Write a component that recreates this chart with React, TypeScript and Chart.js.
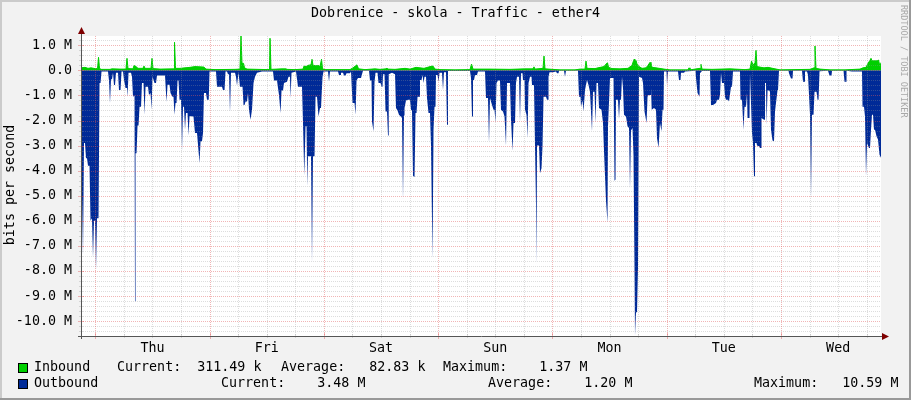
import React, { useEffect, useRef } from "react";
import { Chart, registerables } from "chart.js";

Chart.register(...registerables);

const TITLE = "Dobrenice - skola - Traffic - ether4";
const Y_AXIS_TITLE = "bits per second";
const CREDIT = "RRDTOOL / TOBI OETIKER";

// time axis: hours since Wednesday 00:00, graph spans one week
const X_START = 21;
const X_END = 189;
const DAY_NAMES = ["Wed", "Thu", "Fri", "Sat", "Sun", "Mon", "Tue", "Wed"];
const DAY_LABEL_HOURS = [36, 60, 84, 108, 132, 156, 180];

// value axis in M bits per second
const Y_MIN = -10.59;
const Y_MAX = 1.37;
const Y_TICKS = [-10, -9, -8, -7, -6, -5, -4, -3, -2, -1, 0, 1];

const inboundHours = [
  21.0, 21.84, 22.47, 23.1, 23.94, 24.47, 24.68, 24.89, 25.2, 27.09,
  27.51, 29.19, 30.45, 30.66, 30.87, 31.92, 32.13, 32.55, 32.97, 34.02,
  34.23, 34.44, 35.7, 35.91, 36.12, 37.59, 40.53, 40.64, 40.85, 41.79,
  43.89, 44.94, 45.99, 46.83, 47.25, 49.14, 53.34, 54.39, 54.6, 54.81,
  55.13, 55.34, 55.86, 60.27, 60.59, 60.69, 60.9, 63.21, 64.05, 64.26,
  65.94, 67.62, 67.83, 68.25, 68.67, 69.3, 69.51, 69.72, 70.35, 70.77,
  71.19, 71.51, 71.72, 72.24, 77.49, 78.12, 78.96, 79.28, 80.64, 82.74,
  83.79, 85.05, 85.26, 85.47, 86.94, 89.04, 90.09, 91.35, 93.03, 94.5,
  94.92, 95.34, 96.39, 99.54, 102.69, 103.01, 103.32, 106.89, 111.09, 114.24,
  115.92, 116.13, 116.34, 118.02, 118.23, 118.44, 121.59, 124.74, 125.79, 126.84,
  127.05, 127.26, 128.94, 129.57, 130.83, 131.25, 131.57, 131.78, 132.51, 134.19,
  135.87, 136.71, 137.13, 137.55, 137.76, 138.18, 138.81, 139.65, 140.07, 140.49,
  140.7, 140.91, 141.75, 143.43, 144.69, 148.47, 148.68, 148.89, 150.99, 151.2,
  151.41, 153.51, 157.29, 160.44, 161.49, 161.81, 162.12, 162.54, 162.75, 162.96,
  164.43, 165.27, 166.74, 167.79, 174.09, 174.93, 175.14, 175.35, 176.19, 178.29,
  181.44, 184.59, 185.22, 185.85, 186.27, 186.69, 186.9, 187.11, 188.16, 188.48,
  188.79, 189.0,
];
const inboundM = [
  0.1, 0.12, 0.08, 0.1, 0.07, 0.07, 0.52, 0.08, 0.04, 0.04,
  0.06, 0.05, 0.05, 0.48, 0.07, 0.06, 0.19, 0.15, 0.08, 0.08,
  0.17, 0.08, 0.08, 0.48, 0.07, 0.05, 0.06, 1.12, 0.08, 0.08,
  0.12, 0.15, 0.14, 0.13, 0.05, 0.03, 0.04, 0.05, 1.37, 0.28,
  0.28, 0.1, 0.05, 0.03, 0.04, 1.28, 0.04, 0.06, 0.06, 0.04,
  0.03, 0.05, 0.17, 0.15, 0.2, 0.22, 0.44, 0.2, 0.18, 0.2,
  0.15, 0.44, 0.06, 0.03, 0.03, 0.1, 0.22, 0.06, 0.03, 0.06,
  0.04, 0.06, 0.09, 0.05, 0.04, 0.08, 0.05, 0.12, 0.08, 0.16,
  0.17, 0.05, 0.03, 0.02, 0.03, 0.25, 0.05, 0.05, 0.04, 0.06,
  0.06, 0.14, 0.05, 0.08, 0.57, 0.06, 0.02, 0.02, 0.05, 0.05,
  0.37, 0.08, 0.07, 0.1, 0.15, 0.25, 0.3, 0.12, 0.07, 0.06,
  0.08, 0.2, 0.44, 0.4, 0.25, 0.15, 0.08, 0.1, 0.2, 0.32,
  0.28, 0.12, 0.1, 0.05, 0.02, 0.02, 0.1, 0.02, 0.08, 0.24,
  0.05, 0.04, 0.06, 0.03, 0.05, 0.37, 0.22, 0.3, 0.8, 0.15,
  0.1, 0.12, 0.06, 0.02, 0.04, 0.1, 0.97, 0.08, 0.05, 0.02,
  0.02, 0.05, 0.1, 0.12, 0.28, 0.4, 0.48, 0.38, 0.38, 0.41,
  0.15, 0.31,
];

const outboundHours = [
  21.0, 21.21, 21.42, 21.63, 21.84, 22.05, 22.26, 22.47, 22.79, 23.0,
  23.31, 23.52, 23.73, 23.94, 24.15, 24.36, 24.68, 24.89, 25.1, 25.31,
  26.67, 26.88, 27.09, 27.3, 27.51, 27.72, 27.93, 28.14, 28.35, 28.77,
  28.98, 29.3, 29.51, 29.82, 30.03, 30.35, 30.66, 30.77, 30.98, 31.5,
  31.71, 31.92, 32.24, 32.34, 32.45, 32.66, 32.87, 33.08, 33.29, 33.6,
  33.81, 34.13, 34.34, 34.55, 35.07, 35.28, 35.6, 35.81, 36.02, 36.44,
  36.75, 36.96, 38.64, 38.96, 39.17, 39.59, 39.8, 40.22, 40.43, 40.64,
  40.85, 41.06, 41.27, 41.48, 41.69, 42.0, 42.21, 42.42, 42.63, 42.84,
  43.05, 43.37, 43.58, 43.79, 44.31, 44.63, 44.94, 45.36, 45.57, 45.89,
  46.1, 46.41, 46.62, 46.83, 47.25, 47.46, 47.82, 47.99,
  49.35, 49.56, 50.61, 50.82, 51.14, 51.35, 51.66, 51.87, 52.08, 52.29,
  52.5, 53.34, 53.55, 53.76, 53.97, 54.08, 54.39, 54.92, 55.13, 55.34,
  55.55, 55.86, 56.07, 56.28, 56.6, 56.91, 57.23, 57.54, 57.96, 59.01,
  61.32, 61.53, 62.16, 62.37, 62.58, 62.9, 63.11, 63.42, 63.63, 64.26,
  64.58, 64.89, 65.0, 65.21, 66.15, 66.57, 67.41, 67.62, 67.89, 68.15,
  68.36, 68.52, 68.67, 69.3, 69.51, 69.72, 70.04, 70.25, 70.56, 70.88,
  71.19, 71.4, 71.72, 71.93, 72.87, 73.08, 73.29, 74.97, 75.18, 75.5,
  75.6, 76.02, 76.23, 76.55, 76.76,
  77.49, 77.7, 78.02, 78.44, 78.65, 78.86, 79.17, 79.8, 80.01, 80.22,
  81.48, 81.69, 82.01, 82.11, 82.43, 82.64, 82.85, 83.27, 83.48, 83.9,
  84.11, 84.32, 84.42, 84.74, 84.95, 85.26, 85.47, 85.62, 86.31, 86.94,
  87.15, 87.47, 87.78, 88.2, 88.41, 88.62, 88.83, 88.94, 89.25, 89.67,
  90.09, 90.3, 90.51, 90.72, 91.04, 91.25, 91.46, 91.67, 91.98, 92.19,
  92.51, 92.72, 92.93, 93.14, 93.45, 93.66, 93.98, 94.29, 94.5, 94.82,
  95.03, 95.24, 95.45, 95.55, 95.87, 96.08, 96.29, 96.81, 97.02, 97.23,
  97.65, 97.86, 98.07, 102.69, 102.9, 103.11, 103.32, 103.53, 103.74, 104.16,
  104.37,
  105.84, 106.05, 106.47, 106.68, 106.89, 107.1, 107.31, 107.63, 107.84, 108.05,
  108.26, 108.57, 108.99, 109.2, 109.62, 109.94, 110.25, 110.46, 111.09, 111.3,
  111.62, 111.83, 112.14, 112.35, 112.56, 112.98, 113.19, 113.4, 113.72, 113.82,
  114.14, 114.24, 114.56, 114.77, 114.98, 115.29, 115.61, 115.71, 116.13, 116.34,
  116.55, 116.66, 116.76, 117.18, 117.39, 117.71, 117.92, 118.13, 118.65, 118.86,
  119.07, 119.18, 119.39, 120.12, 120.75, 120.96, 121.28, 121.38, 122.43, 122.64,
  122.85, 125.37, 125.58, 125.9, 126.0, 126.32, 126.53, 126.84, 127.26, 127.58,
  127.89, 128.31, 128.52, 128.84, 129.05, 129.26, 129.57, 129.78, 130.31, 130.62,
  130.83, 131.25, 131.57, 131.67, 132.09, 132.83, 133.04, 133.25,
  133.35, 133.77, 133.98, 134.19, 134.4, 134.61, 134.82, 135.03, 135.45, 135.77,
  136.08, 136.29, 136.5, 136.82, 137.03, 137.24, 137.34, 137.55, 137.76, 137.97,
  138.18, 138.81, 139.02, 139.34, 139.76, 139.97, 140.18, 140.49, 140.7, 140.85,
  141.33, 141.75, 141.96, 142.28, 142.59, 142.91, 143.12, 143.33, 143.43, 143.96,
  144.06, 144.27, 146.37, 146.58, 146.9, 147.0, 147.63, 147.84, 150.05, 150.15,
  150.47, 150.89, 150.99, 151.41, 153.09, 153.3, 153.72, 154.35, 154.56, 154.98,
  155.19, 155.4, 155.51, 155.61, 156.03, 156.24, 156.45, 156.87, 157.08, 157.29,
  157.5, 157.71, 157.92, 159.39, 159.5, 159.81, 160.02, 160.13, 160.34, 160.65,
  160.86, 160.97, 161.18,
  161.39, 161.49, 161.7, 161.91, 162.12, 162.33, 162.54, 162.86, 162.96, 163.38,
  163.59, 163.8, 163.91, 164.43, 164.64, 164.85, 164.96, 165.17, 165.48, 165.69,
  165.9, 166.22, 166.53, 166.74, 166.95, 167.27, 167.37, 167.58, 169.58, 169.68,
  169.89, 170.1, 170.42, 170.52, 172.41, 172.62, 172.83, 173.04, 173.46, 173.67,
  173.88, 174.09, 174.3, 174.51, 174.83, 175.04, 175.46, 175.67, 175.88, 176.09,
  177.87, 178.19, 178.61, 178.71, 181.13, 181.34, 181.65, 181.76, 182.91, 184.17,
  185.01, 185.12, 185.43, 185.64, 185.85, 186.06, 186.48, 186.69, 186.9, 187.11,
  187.32, 187.53, 187.74, 188.06, 188.37, 188.69, 189.0,
];
const outboundM = [
  -4.95, -4.95, -7.35, -2.9, -2.9, -3.5, -3.5, -3.8, -3.8, -6.0,
  -5.9, -7.45, -6.0, -6.0, -7.95, -5.9, -5.9, -0.5, -0.5, -0.05,
  -0.05, -0.4, -1.3, -0.35, -0.35, -0.1, -0.58, -0.58, -0.1, -0.1,
  -0.78, -0.78, -0.05, -0.05, -0.38, -0.7, -0.7, -1.05, -0.1, -0.1,
  -0.25, -1.05, -1.0, -9.2, -3.3, -3.3, -2.2, -2.2, -1.45, -1.45,
  -0.5, -0.5, -1.77, -0.65, -0.65, -0.98, -0.9, -1.57, -0.25, -0.5,
  -0.5, -0.2, -0.2, -1.25, -0.57, -0.57, -0.9, -1.05, -1.05, -1.77,
  -1.3, -1.3, -0.4, -0.4, -1.17, -1.17, -3.2, -1.45, -1.45, -2.37,
  -1.7, -1.7, -2.6, -1.83, -1.83, -1.85, -2.5, -2.5, -2.97, -3.69,
  -2.83, -2.83, -2.5, -0.9, -0.9, -1.17, -1.17, -0.05,
  -0.05, -0.65, -0.65, -0.78, -0.78, -0.05, -0.05, -0.15, -0.15, -1.68,
  -0.1, -0.1, -0.25, -0.6, -0.25, -0.1, -0.65, -0.65, -1.38, -1.38,
  -1.24, -1.24, -0.9, -1.57, -1.97, -1.57, -0.5, -0.25, -0.1, -0.05,
  -0.05, -0.4, -0.4, -0.7, -0.98, -1.7, -0.8, -0.8, -0.5, -0.45,
  -0.25, -0.25, -1.1, -0.1, -0.05, -0.65, -0.65, -2.1, -4.2, -2.23,
  -2.23, -4.6, -3.42, -3.42, -7.65, -3.42, -3.42, -1.05, -1.05, -1.84,
  -1.5, -1.5, -0.25, -0.05, -0.05, -0.45, -0.05, -0.05, -0.18, -0.18,
  -0.1, -0.1, -0.2, -0.2, -0.12,
  -0.12, -0.05, -1.3, -1.3, -1.77, -0.4, -0.3, -0.3, -0.15, -0.02,
  -0.02, -0.4, -0.4, -2.04, -2.43, -0.45, -0.1, -0.1, -0.5, -0.5,
  -0.65, -0.65, -0.15, -0.15, -1.64, -1.64, -2.6, -0.15, -0.1, -0.15,
  -1.5, -1.6, -1.77, -1.85, -1.9, -5.15, -1.8, -1.5, -1.2, -1.17,
  -1.17, -1.57, -1.6, -4.2, -4.25, -1.7, -1.7, -1.05, -1.05, -0.38,
  -0.38, -0.18, -0.5, -0.25, -0.25, -1.1, -1.7, -1.7, -3.0, -7.5,
  -2.36, -1.45, -1.45, -0.18, -0.18, -0.45, -0.1, -0.1, -0.78, -0.08,
  -0.08, -2.17, -0.03, -0.03, -0.3, -1.84, -0.38, -0.38, -0.18, -0.18,
  -0.05,
  -0.05, -1.1, -1.1, -2.9, -1.1, -1.1, -1.38, -1.57, -1.57, -2.08,
  -0.5, -0.4, -0.4, -1.57, -1.64, -1.84, -3.0, -0.5, -0.5, -1.97,
  -3.2, -2.1, -2.1, -0.5, -0.25, -0.25, -2.04, -0.12, -0.12, -0.38,
  -0.38, -1.57, -1.77, -2.7, -0.5, -0.25, -0.25, -0.58, -0.58, -3.0,
  -5.34, -7.72, -3.0, -3.0, -4.1, -3.9, -3.0, -1.05, -1.05, -1.17,
  -1.17, -0.25, -0.08, -0.08, -0.05, -0.12, -0.12, -0.02, -0.02, -0.25,
  -0.02, -0.02, -1.05, -1.05, -1.45, -1.2, -1.64, -0.78, -0.38, -0.58,
  -0.85, -2.43, -0.85, -0.85, -2.1, -0.5, -0.5, -1.5, -1.57, -2.1,
  -3.2, -5.2, -6.07, -2.23, -0.3, -0.3, -4.4, -4.35,
  -1.17, -1.17, -1.94, -1.17, -1.17, -0.25, -0.7, -1.77, -1.84, -2.23,
  -2.3, -4.72, -2.4, -2.3, -3.4, -7.92, -10.55, -9.64, -9.64, -7.85,
  -0.25, -0.3, -0.5, -1.64, -2.1, -1.05, -0.98, -0.98, -0.7, -1.57,
  -1.5, -1.57, -2.7, -3.09, -2.1, -2.43, -1.57, -1.57, -0.05, -0.05,
  -0.58, -0.05, -0.05, -0.38, -0.38, -0.1, -0.1, -0.05, -0.02, -0.3,
  -0.9, -1.05, -0.12, -0.03, -0.03, -1.38, -1.38, -1.3, -1.17, -1.17,
  -0.98, -0.1, -0.1, -0.5, -0.5, -1.05, -1.17, -1.17, -1.24, -1.24,
  -0.65, -0.65, -0.05, -0.05, -1.17, -1.17, -1.97, -2.37, -1.45, -1.45,
  -0.9, -1.9, -1.9,
  -1.9, -0.12, -0.12, -2.5, -2.9, -4.22, -2.9, -2.9, -3.0, -3.03,
  -3.1, -3.1, -1.9, -1.97, -0.5, -0.5, -2.17, -0.8, -0.8, -0.85,
  -2.37, -2.8, -2.83, -1.64, -1.64, -0.78, -0.78, -0.02, -0.02, -0.12,
  -0.12, -0.32, -0.32, -0.02, -0.02, -0.45, -0.45, -0.05, -0.05, -0.18,
  -0.18, -1.77, -5.08, -1.77, -1.77, -0.85, -0.85, -1.17, -1.17, -0.04,
  -0.02, -0.2, -0.2, -0.02, -0.02, -0.45, -0.45, -0.02, -0.05, -0.05,
  -0.05, -1.45, -1.45, -1.84, -4.22, -2.9, -3.1, -3.1, -2.37, -1.77,
  -1.77, -2.37, -2.37, -2.63, -2.76, -3.36, -3.48,
];

const STAT_LABELS = ["Current:", "Average:", "Maximum:"];
const inboundStats = [["311.49", "k"], ["82.83", "k"], ["1.37", "M"]];
const outboundStats = [["3.48", "M"], ["1.20", "M"], ["10.59", "M"]];

const FONT = "'DejaVu Sans Mono', monospace";
const GREEN = "#00CF00";
const BLUE = "#002A97";
const BACK = "#F2F2F2";
const GRID = "rgba(150,150,150,0.32)";
const MGRID = "rgba(225,90,90,0.45)";
const AXIS = "#555555";
const ARROW = "#7F0000";

const rrdPlugin = {
  id: "rrdLook",
  beforeDraw(chart: any) {
    const { ctx, chartArea: a, width, height } = chart;
    ctx.save();
    ctx.fillStyle = BACK;
    ctx.fillRect(0, 0, width, height);
    ctx.fillStyle = "#CBCBCB";
    ctx.fillRect(0, 0, width, 2);
    ctx.fillRect(0, 0, 2, height);
    ctx.fillStyle = "#999999";
    ctx.fillRect(0, height - 2, width, 2);
    ctx.fillRect(width - 2, 0, 2, height);
    ctx.fillStyle = "#FFFFFF";
    ctx.fillRect(a.left, a.top, a.right - a.left, a.bottom - a.top);
    ctx.restore();
  },
  afterDatasetsDraw(chart: any) {
    const { ctx, chartArea: a } = chart;
    const xs = chart.scales.x;
    const ys = chart.scales.y;
    ctx.save();
    ctx.lineWidth = 1;

    const hLines: { y: number; major: boolean }[] = [];
    for (let k = Math.ceil(Y_MIN * 5); k <= Math.floor(Y_MAX * 5); k++) {
      hLines.push({ y: Math.round(ys.getPixelForValue(k / 5)) + 0.5, major: k % 5 === 0 });
    }
    const vLines: { x: number; major: boolean }[] = [];
    for (let h = Math.ceil(X_START / 6) * 6; h < X_END; h += 6) {
      vLines.push({ x: Math.round(xs.getPixelForValue(h)) + 0.5, major: h % 24 === 0 });
    }

    for (const pass of [false, true]) {
      ctx.setLineDash([1, 1]);
      ctx.strokeStyle = pass ? MGRID : GRID;
      ctx.beginPath();
      for (const l of hLines) {
        if (l.major !== pass) continue;
        ctx.moveTo(a.left, l.y);
        ctx.lineTo(a.right, l.y);
      }
      for (const l of vLines) {
        if (l.major !== pass) continue;
        ctx.moveTo(l.x, a.top);
        ctx.lineTo(l.x, a.bottom);
      }
      ctx.stroke();
      // tick marks on the axes
      ctx.setLineDash([]);
      ctx.beginPath();
      const t = pass ? 3 : 2;
      for (const l of hLines) {
        if (l.major !== pass) continue;
        ctx.moveTo(a.left - t, l.y);
        ctx.lineTo(a.left + t, l.y);
      }
      for (const l of vLines) {
        if (l.major !== pass) continue;
        ctx.moveTo(l.x, a.bottom - t);
        ctx.lineTo(l.x, a.bottom + t);
      }
      ctx.stroke();
    }

    // axes
    ctx.setLineDash([]);
    ctx.strokeStyle = AXIS;
    ctx.beginPath();
    const ax = Math.round(a.left) + 0.5;
    const ay = Math.round(a.bottom) + 0.5;
    ctx.moveTo(ax, a.bottom + 3);
    ctx.lineTo(ax, a.top - 4);
    ctx.moveTo(a.left - 3, ay);
    ctx.lineTo(a.right + 4, ay);
    ctx.stroke();
    ctx.fillStyle = ARROW;
    ctx.beginPath();
    ctx.moveTo(ax, a.top - 9);
    ctx.lineTo(ax - 3.5, a.top - 2);
    ctx.lineTo(ax + 3.5, a.top - 2);
    ctx.closePath();
    ctx.fill();
    ctx.beginPath();
    ctx.moveTo(a.right + 8, ay);
    ctx.lineTo(a.right + 1, ay - 3.5);
    ctx.lineTo(a.right + 1, ay + 3.5);
    ctx.closePath();
    ctx.fill();
    ctx.restore();
  },
  afterDraw(chart: any) {
    const { ctx } = chart;
    ctx.save();
    ctx.fillStyle = "#000";
    ctx.font = `13.33px ${FONT}`;
    ctx.textBaseline = "middle";
    ctx.textAlign = "center";
    ctx.fillText(TITLE, 455.5, 14);

    ctx.save();
    ctx.translate(11, 185);
    ctx.rotate(-Math.PI / 2);
    ctx.fillText(Y_AXIS_TITLE, 0, 0);
    ctx.restore();

    ctx.save();
    ctx.fillStyle = "#A8A8A8";
    ctx.font = `8.5px ${FONT}`;
    ctx.textAlign = "left";
    ctx.translate(903, 5);
    ctx.rotate(Math.PI / 2);
    ctx.fillText(CREDIT, 0, 0);
    ctx.restore();

    ctx.textAlign = "left";
    const rows = [
      { name: "Inbound", color: GREEN, stats: inboundStats, y: 368, xs: [117, 281, 443] },
      { name: "Outbound", color: BLUE, stats: outboundStats, y: 384, xs: [221, 488, 754] },
    ];
    for (const r of rows) {
      ctx.fillStyle = r.color;
      ctx.fillRect(18, r.y - 5, 10, 10);
      ctx.strokeStyle = "#000";
      ctx.lineWidth = 1;
      ctx.strokeRect(18.5, r.y - 4.5, 9, 9);
      ctx.fillStyle = "#000";
      ctx.fillText(r.name, 34, r.y);
      r.stats.forEach((s, i) => {
        ctx.fillText(STAT_LABELS[i] + s[0].padStart(8, " ") + " " + s[1], r.xs[i], r.y);
      });
    }
    ctx.restore();
  },
};

export default function App() {
  const ref = useRef<HTMLCanvasElement>(null);
  useEffect(() => {
    const canvas = ref.current;
    if (!canvas) return;
    Chart.defaults.font.family = FONT;
    const chart = new Chart(canvas, {
      type: "line",
      data: {
        datasets: [
          {
            label: "Outbound",
            data: outboundHours.map((x, i) => ({ x, y: outboundM[i] })),
            borderWidth: 0,
            borderColor: BLUE,
            backgroundColor: BLUE,
            fill: "origin",
            pointRadius: 0,
            tension: 0,
            order: 2,
          },
          {
            label: "Inbound",
            data: inboundHours.map((x, i) => ({ x, y: inboundM[i] })),
            borderWidth: 1,
            borderColor: GREEN,
            backgroundColor: GREEN,
            fill: "origin",
            pointRadius: 0,
            tension: 0,
            order: 1,
          },
        ],
      },
      options: {
        animation: false,
        responsive: false,
        devicePixelRatio: 1,
        events: [],
        layout: { padding: { top: 36, right: 30, left: 0, bottom: 0 } },
        plugins: {
          legend: { display: false },
          title: { display: false },
          tooltip: { enabled: false },
        },
        scales: {
          x: {
            type: "linear",
            min: X_START,
            max: X_END,
            grid: { display: false, drawTicks: false },
            border: { display: false },
            afterBuildTicks: (s: any) => {
              s.ticks = DAY_LABEL_HOURS.map((v) => ({ value: v }));
            },
            afterFit: (s: any) => {
              s.height = 64;
            },
            ticks: {
              autoSkip: false,
              maxRotation: 0,
              padding: 5,
              color: "#000",
              font: { family: FONT, size: 13.33 },
              callback: (v: any) => DAY_NAMES[Math.floor(Number(v) / 24)],
            },
          },
          y: {
            type: "linear",
            min: Y_MIN,
            max: Y_MAX,
            grid: { display: false, drawTicks: false },
            border: { display: false },
            afterBuildTicks: (s: any) => {
              s.ticks = Y_TICKS.map((v) => ({ value: v }));
            },
            afterFit: (s: any) => {
              s.width = 81;
            },
            ticks: {
              padding: 9,
              color: "#000",
              font: { family: FONT, size: 13.33 },
              callback: (v: any) => (Number(v) === 0 ? "0.0" : Number(v).toFixed(1) + " M"),
            },
          },
        },
      },
      plugins: [rrdPlugin],
    } as any);
    return () => chart.destroy();
  }, []);
  return (
    <div style={{ position: "absolute", left: 0, top: 0, width: 911, height: 400 }}>
      <canvas ref={ref} width={911} height={400} style={{ display: "block", width: 911, height: 400 }} />
    </div>
  );
}
